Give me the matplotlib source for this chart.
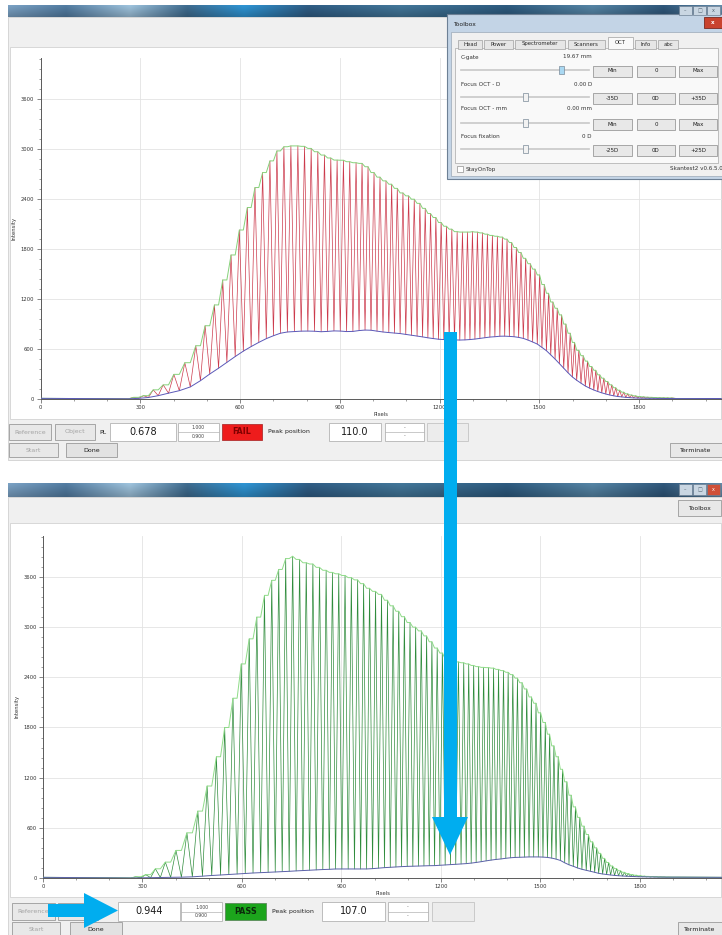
import numpy as np
import matplotlib.pyplot as plt
from matplotlib.patches import Rectangle, Polygon
from matplotlib.ticker import MultipleLocator

W, H = 722, 935

# fringe peak positions on the line sensor (pixels), same grid for both scans
peak_px = [280, 310, 339, 369, 401, 434, 467, 495, 523, 548,
           573, 598, 622, 645, 668, 690, 711, 732, 753, 774,
           794, 814, 834, 854, 873, 892, 911, 930, 949, 967,
           985, 1003, 1021, 1039, 1056, 1073, 1090, 1107, 1124, 1141,
           1157, 1173, 1189, 1205, 1221, 1237, 1253, 1269, 1284, 1299,
           1314, 1329, 1344, 1359, 1374, 1389, 1403, 1417, 1431, 1445,
           1459, 1473, 1487, 1501, 1515, 1528, 1541, 1554, 1567, 1580,
           1593, 1606, 1619, 1632, 1645, 1658, 1670, 1682, 1694, 1706,
           1718, 1730, 1742, 1754, 1766, 1778, 1790, 1802, 1814, 1826,
           1838, 1850, 1862, 1874, 1886, 1898]

# first scan (PL 0.678, FAIL): fringe maxima and the minima around them
fail_peaks = [20, 40, 110, 170, 296, 436, 640, 880, 1130, 1430,
              1730, 2030, 2300, 2540, 2720, 2860, 2980, 3030, 3040, 3040,
              3035, 3010, 2970, 2930, 2895, 2870, 2868, 2850, 2838, 2830,
              2790, 2720, 2665, 2620, 2580, 2530, 2475, 2440, 2400, 2350,
              2290, 2228, 2180, 2120, 2075, 2040, 2010, 2005, 2005, 2010,
              2005, 1995, 1980, 1965, 1955, 1945, 1920, 1880, 1820, 1760,
              1690, 1625, 1560, 1490, 1375, 1270, 1165, 1090, 1010, 900,
              790, 680, 585, 520, 455, 390, 345, 290, 250, 210,
              170, 135, 105, 82, 62, 48, 38, 30, 26, 22,
              20, 18, 16, 15, 14, 13]
fail_troughs = [2, 8, 18, 40, 70, 100, 145, 220, 300, 370,
                440, 510, 575, 630, 680, 725, 760, 790, 805, 810,
                815, 816, 814, 808, 812, 818, 816, 810, 812, 822,
                828, 826, 815, 805, 798, 792, 786, 776, 766, 756,
                746, 735, 726, 718, 714, 712, 710, 708, 710, 714,
                720, 728, 736, 744, 748, 754, 755, 752, 748, 740,
                728, 708, 685, 660, 620, 580, 530, 480, 425, 370,
                315, 265, 225, 190, 156, 130, 108, 90, 74, 60,
                48, 38, 30, 25, 20, 16, 13, 11, 10, 9,
                8, 8, 7, 7, 6, 6, 5]

# second scan (PL 0.944, PASS)
pass_peaks = [15, 40, 110, 190, 330, 540, 800, 1100, 1450, 1800,
              2150, 2560, 2860, 3120, 3380, 3560, 3690, 3820, 3848, 3810,
              3770, 3755, 3715, 3680, 3655, 3638, 3618, 3592, 3565, 3520,
              3465, 3428, 3392, 3322, 3255, 3190, 3125, 3055, 3000, 2955,
              2895, 2825, 2750, 2690, 2620, 2592, 2584, 2574, 2560, 2542,
              2528, 2519, 2516, 2510, 2495, 2480, 2460, 2432, 2390, 2335,
              2260, 2165, 2090, 1975, 1860, 1720, 1580, 1450, 1300, 1150,
              990, 850, 725, 620, 520, 432, 360, 295, 235, 185,
              143, 112, 86, 68, 53, 41, 33, 27, 22, 19,
              17, 15, 13, 12, 11, 10]
pass_troughs = [0, 2, 4, 6, 8, 10, 14, 22, 30, 36,
                42, 48, 54, 60, 64, 68, 72, 76, 80, 85,
                89, 93, 97, 101, 104, 108, 108, 108, 108, 108,
                108, 112, 118, 124, 128, 132, 136, 139, 141, 143,
                145, 147, 148, 152, 156, 160, 164, 168, 172, 178,
                186, 195, 205, 214, 222, 228, 236, 242, 246, 248,
                250, 252, 252, 252, 250, 246, 238, 226, 210, 182,
                158, 140, 120, 104, 92, 80, 68, 56, 48, 42,
                36, 31, 27, 24, 21, 19, 17, 15, 14, 13,
                12, 12, 11, 11, 10, 10, 10]

scan_range = [0, 2047]
fail_edges = [8, 6]
pass_edges = [8, 8]

x_ticks = [0, 300, 600, 900, 1200, 1500, 1800]
y_ticks = [0, 600, 1200, 1800, 2400, 3000, 3600]

fail_result = {"pl": "0.678", "status": "FAIL", "peak": "110.0"}
pass_result = {"pl": "0.944", "status": "PASS", "peak": "107.0"}
pl_limits = ["1.000", "0.900"]

plt.rcParams["font.family"] = ["DejaVu Sans"]

fig = plt.figure(figsize=(W / 100, H / 100), dpi=100)
fig.patch.set_facecolor("white")


def pixel_axes(z):
    ax = fig.add_axes([0, 0, 1, 1], zorder=z)
    ax.set_xlim(0, W)
    ax.set_ylim(H, 0)
    ax.axis("off")
    ax.patch.set_alpha(0)
    return ax


bg = pixel_axes(0)
ov = pixel_axes(5)


def rect(ax, x0, y0, x1, y1, fc, ec="none", lw=0.6, z=1):
    ax.add_patch(Rectangle((x0, y0), x1 - x0, y1 - y0, facecolor=fc,
                           edgecolor=ec, linewidth=lw, zorder=z))


def label(ax, x, y, s, size=4.5, color="#222222", ha="left", z=3, **kw):
    ax.text(x, y, s, fontsize=size, color=color, ha=ha, va="center", zorder=z, **kw)


def button(ax, x0, y0, x1, y1, s, enabled=True, size=4.5, fc="#e8e8e8"):
    rect(ax, x0, y0, x1, y1, fc, "#9a9a9a", 0.6, 2)
    label(ax, (x0 + x1) / 2, (y0 + y1) / 2, s, size,
          "#1e1e1e" if enabled else "#a4a4a4", ha="center")


bar_stops = [(0.0, "#7296b6"), (0.08, "#4c7396"), (0.17, "#93b5cd"), (0.25, "#3a6485"),
             (0.33, "#2b8ac5"), (0.42, "#2c567b"), (0.55, "#3e6e8e"), (0.7, "#2a5476"),
             (0.82, "#4f7b99"), (0.92, "#2c5172"), (1.0, "#5b809d")]


def title_bar(ax, x0, y0, x1, y1):
    pos = np.linspace(0, 1, 300)
    stops = [s[0] for s in bar_stops]
    rgb = np.array([plt.matplotlib.colors.to_rgb(s[1]) for s in bar_stops])
    row = np.stack([np.interp(pos, stops, rgb[:, c]) for c in range(3)], axis=1)
    shade = np.linspace(1.08, 0.85, 12)[:, None, None]
    img = np.clip(row[None, :, :] * shade, 0, 1)
    ax.imshow(img, extent=(x0, x1, y1, y0), aspect="auto", interpolation="bilinear", zorder=1)


def window_icons(ax, y0, y1, red=True):
    for i, (x0, s) in enumerate([(679, "\u2013"), (693, "\u25a1"), (707, "x")]):
        fc = "#d05038" if (red and i == 2) else "#c9d6e2"
        rect(ax, x0, y0, x0 + 13, y1, fc, "#6f8296", 0.5, 2)
        label(ax, x0 + 6.5, (y0 + y1) / 2, s, 3.5, "white" if fc == "#d05038" else "#50606e", ha="center")


# ---- window chrome ----
for top, bar_bottom, body_bottom, panel in [(5, 17, 460, (47, 419)), (483, 497, 935, (523, 897))]:
    title_bar(bg, 8, top, W, bar_bottom)
    rect(bg, 8, bar_bottom, W, body_bottom, "#f0f0f0", "#c8c8c8", 0.5)
    rect(bg, 10, panel[0], W - 1, panel[1], "white", "#d2d2d2", 0.6)
bg.set_xlim(0, W)
bg.set_ylim(H, 0)
window_icons(bg, 484, 495)
button(bg, 678, 500, 721, 516, "Toolbox", size=4.3)


# ---- scan plots ----
def scan_axes(left, right, top, bottom):
    ax = fig.add_axes([left / W, 1 - bottom / H, (right - left) / W, (bottom - top) / H], zorder=2)
    ax.set_facecolor("none")
    ax.set_xlim(0, 2048)
    ax.set_ylim(0, 4096)
    ax.set_xticks(x_ticks)
    ax.set_yticks(y_ticks)
    ax.xaxis.set_minor_locator(MultipleLocator(100))
    ax.yaxis.set_minor_locator(MultipleLocator(120))
    ax.grid(True, which="major", color="#e3e3e3", lw=0.6)
    ax.set_axisbelow(True)
    for s in ["top", "right"]:
        ax.spines[s].set_visible(False)
    for s in ["left", "bottom"]:
        ax.spines[s].set_color("#5a5a5a")
        ax.spines[s].set_linewidth(0.7)
    ax.tick_params(which="major", length=3, width=0.5, labelsize=3.8, colors="#555555",
                   labelcolor="#333333", pad=1.5)
    ax.tick_params(which="minor", length=1.6, width=0.4, colors="#555555")
    ax.set_xlabel("Pixels", fontsize=3.8, labelpad=1.5, color="#333333")
    ax.set_ylabel("Intensity", fontsize=3.8, labelpad=3, color="#333333")
    return ax


def draw_scan(ax, peaks, troughs, edges, sig_color, top_color, low_color):
    px = np.array(peak_px, float)
    pk = np.array(peaks, float)
    tr = np.array(troughs, float)
    mids = (px[:-1] + px[1:]) / 2
    trough_x = np.concatenate([[px[0] - 15], mids, [px[-1] + 15]])

    sig_x = np.empty(2 * len(px) + 1)
    sig_y = np.empty(2 * len(px) + 1)
    sig_x[0::2], sig_x[1::2] = trough_x, px
    sig_y[0::2], sig_y[1::2] = tr, pk
    ax.plot(np.r_[scan_range[0], sig_x, scan_range[1]], np.r_[edges[0], sig_y, edges[1]],
            color=sig_color, lw=0.5, zorder=3)

    # upper envelope holds the smaller neighbouring maximum between fringes
    env_x = np.empty(2 * len(px) - 1)
    env_y = np.empty(2 * len(px) - 1)
    env_x[0::2], env_x[1::2] = px, mids
    env_y[0::2], env_y[1::2] = pk, np.minimum(pk[:-1], pk[1:])
    ax.plot(np.r_[scan_range[0], trough_x[0], env_x, trough_x[-1], scan_range[1]],
            np.r_[edges[0], tr[0], env_y, tr[-1], edges[1]], color=top_color, lw=0.7, zorder=4)
    ax.plot(np.r_[scan_range[0], trough_x, scan_range[1]], np.r_[edges[0], tr, edges[1]],
            color=low_color, lw=0.7, zorder=4)


ax_fail = scan_axes(40.5, 721.5, 58, 399)
draw_scan(ax_fail, fail_peaks, fail_troughs, fail_edges, "#cc3a4c", "#86d27a", "#5a58b8")
ax_pass = scan_axes(43, 722, 535.5, 878)
draw_scan(ax_pass, pass_peaks, pass_troughs, pass_edges, "#2f8c3c", "#8fdc88", "#5a60a8")


# ---- result rows under each plot ----
def result_row(ax, y, y2, x, res, object_btn=True):
    c = (y[0] + y[1]) / 2
    button(ax, x["ref"][0], y[0], x["ref"][1], y[1], "Reference", enabled=False)
    if object_btn:
        button(ax, x["obj"][0], y[0], x["obj"][1], y[1], "Object", enabled=False)
    label(ax, x["pl"], c, "PL", 4.5)
    rect(ax, x["val"][0], y[0] - 1, x["val"][1], y[1] + 1, "white", "#b4b4b4", 0.6, 2)
    label(ax, (x["val"][0] + x["val"][1]) / 2, c, res["pl"], 7, "#1a1a1a", ha="center")
    rect(ax, x["lim"][0], y[0] - 1, x["lim"][1], y[1] + 1, "white", "#b4b4b4", 0.6, 2)
    ax.plot(x["lim"], [c, c], color="#b4b4b4", lw=0.5, zorder=3)
    label(ax, sum(x["lim"]) / 2, c - 4.3, pl_limits[0], 3.3, "#444444", ha="center")
    label(ax, sum(x["lim"]) / 2, c + 4.3, pl_limits[1], 3.3, "#444444", ha="center")
    ok = res["status"] == "PASS"
    rect(ax, x["st"][0], y[0], x["st"][1], y[1], "#1ca51c" if ok else "#ee1c1c",
         "#5a8a5a" if ok else "#b03030", 0.6, 2)
    label(ax, sum(x["st"]) / 2, c, res["status"], 5.8, "#0b2a0b" if ok else "#820000",
          ha="center", fontweight="bold")
    label(ax, x["pp"], c, "Peak position", 4.5)
    rect(ax, x["pk"][0], y[0] - 1, x["pk"][1], y[1] + 1, "white", "#b4b4b4", 0.6, 2)
    label(ax, sum(x["pk"]) / 2, c, res["peak"], 7, "#1a1a1a", ha="center")
    rect(ax, x["dash"][0], y[0] - 1, x["dash"][1], y[1] + 1, "white", "#b4b4b4", 0.6, 2)
    ax.plot(x["dash"], [c, c], color="#b4b4b4", lw=0.5, zorder=3)
    label(ax, sum(x["dash"]) / 2, c - 4.5, "-", 3.5, "#666666", ha="center")
    label(ax, sum(x["dash"]) / 2, c + 4.0, "-", 3.5, "#666666", ha="center")
    rect(ax, x["empty"][0], y[0] - 1, x["empty"][1], y[1] + 1, "#ececec", "#c4c4c4", 0.6, 2)
    button(ax, x["start"][0], y2[0], x["start"][1], y2[1], "Start", enabled=False)
    button(ax, x["done"][0], y2[0], x["done"][1], y2[1], "Done", fc="#e2e2e2")
    button(ax, x["term"][0], y2[0], x["term"][1], y2[1], "Terminate")


result_row(bg, (424, 440), (443, 457),
           {"ref": (9, 51), "obj": (55, 95), "pl": 99, "val": (110, 176), "lim": (178, 219),
            "st": (222, 262), "pp": 268, "pk": (329, 381), "dash": (385, 424),
            "empty": (427, 468), "start": (9, 58), "done": (66, 117), "term": (670, 722)},
           fail_result)
result_row(bg, (903, 920), (922, 937),
           {"ref": (12, 55), "obj": (58, 98), "pl": 103, "val": (118, 180), "lim": (181, 222),
            "st": (225, 266), "pp": 272, "pk": (322, 385), "dash": (388, 428),
            "empty": (432, 474), "start": (12, 60), "done": (70, 122), "term": (678, 722)},
           pass_result)


# ---- Toolbox dialog on top of the first window ----
window_icons(ov, 6, 15, red=False)
rect(ov, 447, 14, 724, 179, "#c3d4e6", "#6d8095", 0.8, 1)
label(ov, 453, 25, "Toolbox", 4.3, "#1e1e1e")
rect(ov, 704, 17, 722, 28, "#c9432e", "#7a2a20", 0.6, 2)
label(ov, 713, 22.5, "x", 4, "white", ha="center", fontweight="bold")
rect(ov, 451, 32, 724, 176, "#f0f0f0", "#9aa8b6", 0.5, 1)
rect(ov, 455, 48, 718, 163, "#f9f9f9", "#a8a8a8", 0.5, 1)

tabs = [("Head", 458, 482), ("Power", 484, 513), ("Spectrometer", 515, 565),
        ("Scanners", 568, 605), ("OCT", 608, 633), ("Info", 635, 656), ("abc", 658, 678)]
for name, x0, x1 in tabs:
    sel = name == "OCT"
    rect(ov, x0, 37 if sel else 39.5, x1, 48.5, "#f9f9f9" if sel else "#e6e6e6", "#a0a0a0", 0.5, 2)
    label(ov, (x0 + x1) / 2, 43 if sel else 44, name, 3.9, "#2a2a2a", ha="center")

controls = [("C-gate", "19.67 mm", 57, 70, 561, ("Min", "0", "Max")),
            ("Focus OCT - D", "0.00 D", 84, 97, 525, ("-35D", "0D", "+35D")),
            ("Focus OCT - mm", "0.00 mm", 109, 123, 525, ("Min", "0", "Max")),
            ("Focus fixation", "0 D", 136, 149, 525, ("-25D", "0D", "+25D"))]
for name, value, ty, sy, hx, btns in controls:
    label(ov, 461, ty, name, 4.1, "#333333")
    label(ov, 592, ty, value, 4.1, "#333333", ha="right")
    ov.plot([461, 589], [sy, sy], color="#c8c8c8", lw=1.2, zorder=2)
    rect(ov, hx - 2.5, sy - 4, hx + 2.5, sy + 4, "#a9d8f2" if name == "C-gate" else "#f2f2f2",
         "#7a8a98", 0.5, 3)
    for (x0, x1), s in zip([(593, 632), (637, 675), (679, 717)], btns):
        button(ov, x0, sy - 4.5, x1, sy + 6.5, s, size=4)

rect(ov, 457, 166, 463, 172, "white", "#909090", 0.5, 2)
label(ov, 466, 169, "StayOnTop", 4.1, "#333333")
label(ov, 670, 169, "Skantest2 v0.6.5.0", 4.1, "#333333")

# ---- highlight arrows ----
arrow_blue = "#00adef"
rect(ov, 443.5, 332, 456.5, 818, arrow_blue, z=6)
ov.add_patch(Polygon([[432, 817], [468, 817], [450, 855]], closed=True, facecolor=arrow_blue,
                     edgecolor="none", zorder=6))
rect(ov, 48, 904, 85, 917, arrow_blue, z=6)
ov.add_patch(Polygon([[84, 893], [84, 928], [118, 910.5]], closed=True, facecolor=arrow_blue,
                     edgecolor="none", zorder=6))

ov.set_xlim(0, W)
ov.set_ylim(H, 0)
fig.savefig("out.png", dpi=100)
